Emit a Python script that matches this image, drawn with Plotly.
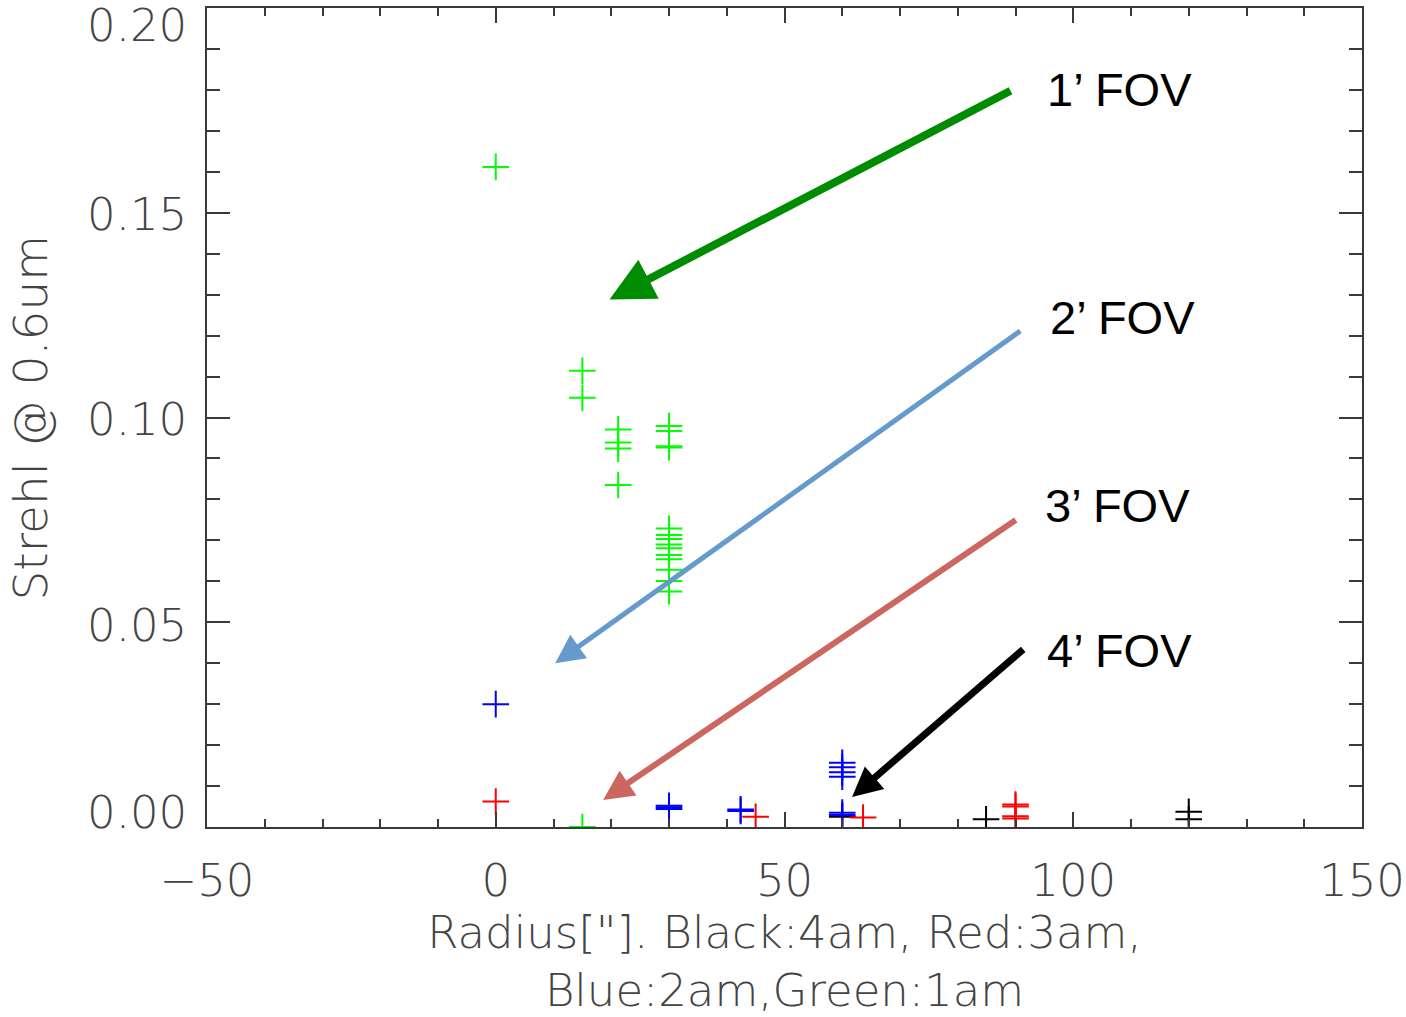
import plotly.graph_objects as go

# Strehl ratio at 0.6um versus field radius for four field-of-view sizes
black_x = [60, 84.9, 120, 120]
black_y = [0.0025, 0.0019, 0.0037, 0.0019]

red_x = [0, 45, 63.6, 90, 90, 90, 90]
red_y = [0.0062, 0.0025, 0.0023, 0.0055, 0.0050, 0.0026, 0.0021]

blue_x = [0, 30, 30, 30, 42.4, 42.4, 60, 60, 60, 60, 60, 60]
blue_y = [0.0300, 0.0052, 0.0048, 0.0044, 0.0043, 0.0039,
          0.0157, 0.0146, 0.0134, 0.0123, 0.0035, 0.0029]

green_x = [0, 15, 15, 15, 21.2, 21.2, 21.2, 21.2,
           30, 30, 30, 30, 30, 30, 30, 30, 30, 30, 30, 30, 30, 30]
green_y = [0.1612, 0.1114, 0.1048, 0.0, 0.0971, 0.0939, 0.0924, 0.0835,
           0.0979, 0.0967, 0.0930, 0.0927, 0.0729, 0.0713, 0.0703, 0.0690,
           0.0681, 0.0664, 0.0654, 0.0628, 0.0601, 0.0575]

x_ticks = [-50, 0, 50, 100, 150]
y_ticks = [0.00, 0.05, 0.10, 0.15, 0.20]
y_tick_text = ["0.00", "0.05", "0.10", "0.15", "0.20"]
# end labels are nudged inward so they stay inside the figure
y_label_shift = [15, -3, -2, -2, -17]

# FOV callouts: label, label position, arrow tail, arrow tip
fov_labels = ["1\u2019 FOV", "2\u2019 FOV", "3\u2019 FOV", "4\u2019 FOV"]
label_x = [108.0, 108.6, 107.7, 108.0]
label_y = [0.180, 0.1245, 0.0786, 0.0432]
tail_x = [89.4, 91.1, 90.3, 91.6]
tail_y = [0.180, 0.1214, 0.0752, 0.0437]
tip_x = [19.7, 10.3, 18.6, 61.7]
tip_y = [0.1288, 0.0400, 0.0066, 0.0073]
arrow_colors = ["#008c00", "#6699cc", "#cc6660", "#000000"]
arrow_widths = [8, 5, 6, 7]
arrow_sizes = [1.1, 1.15, 1.0, 0.85]

thin_font = "DejaVu Sans, Lato, Roboto, sans-serif"
axis_grey = "#3a3a3a"
text_grey = "#444444"
tick_font = dict(family=thin_font, size=45, color=text_grey, weight=200)

fig = go.Figure()

for xs, ys, col in [(black_x, black_y, "#000000"),
                    (red_x, red_y, "#ff0000"),
                    (blue_x, blue_y, "#0000ff"),
                    (green_x, green_y, "#00ff00")]:
    fig.add_trace(go.Scatter(
        x=xs, y=ys, mode="markers",
        marker=dict(symbol="cross-thin", size=19,
                    line=dict(color=col, width=2)),
        showlegend=False,
    ))

annotations = []
for i in range(len(fov_labels)):
    annotations.append(dict(
        x=tip_x[i], y=tip_y[i], xref="x", yref="y",
        ax=tail_x[i], ay=tail_y[i], axref="x", ayref="y",
        text="", showarrow=True, arrowhead=2,
        arrowsize=arrow_sizes[i], arrowwidth=arrow_widths[i],
        arrowcolor=arrow_colors[i], standoff=0,
    ))
    annotations.append(dict(
        x=label_x[i], y=label_y[i], xref="x", yref="y",
        text=fov_labels[i], showarrow=False,
        font=dict(family="Liberation Sans, Arial, sans-serif",
                  size=47, color="#000000"),
    ))

# y tick labels placed on the y scale, right-aligned left of the axis
for val, txt, shift in zip(y_ticks, y_tick_text, y_label_shift):
    annotations.append(dict(
        x=0, y=val, xref="paper", yref="y", text=txt, showarrow=False,
        xanchor="right", yanchor="middle", xshift=-18, yshift=shift,
        font=tick_font,
    ))

axis_common = dict(
    showline=True, linecolor=axis_grey, linewidth=1.5,
    mirror="allticks", ticks="inside", tickcolor=axis_grey,
    tickwidth=1.5, showgrid=False, zeroline=False, automargin=False,
    tickfont=tick_font,
)

fig.update_layout(
    template="none",
    width=1406, height=1017,
    margin=dict(l=207, r=44, t=8, b=190),
    plot_bgcolor="white", paper_bgcolor="white",
    xaxis=dict(
        range=[-50, 150], tickmode="array", tickvals=x_ticks,
        ticklen=15, ticklabelstandoff=13,
        minor=dict(dtick=10, ticklen=8, ticks="inside",
                   tickcolor=axis_grey, tickwidth=1.5),
        title=dict(text="Radius[\"]. Black:4am, Red:3am,<br>Blue:2am,Green:1am",
                   font=dict(family=thin_font, size=45, color=text_grey,
                             weight=200), standoff=35),
        **axis_common,
    ),
    yaxis=dict(
        range=[0, 0.2], tickmode="array", tickvals=y_ticks,
        showticklabels=False, ticklen=23,
        minor=dict(dtick=0.01, ticklen=13, ticks="inside",
                   tickcolor=axis_grey, tickwidth=1.5),
        **axis_common,
    ),
    annotations=annotations,
)

# vertical axis title, centred on the plot height
fig.add_annotation(
    x=0, y=0.5, xref="paper", yref="paper", xanchor="center",
    yanchor="middle", xshift=-177, text="Strehl @ 0.6um", textangle=-90,
    showarrow=False,
    font=dict(family=thin_font, size=47, color=text_grey, weight=200),
)

fig.write_html("out.html")
